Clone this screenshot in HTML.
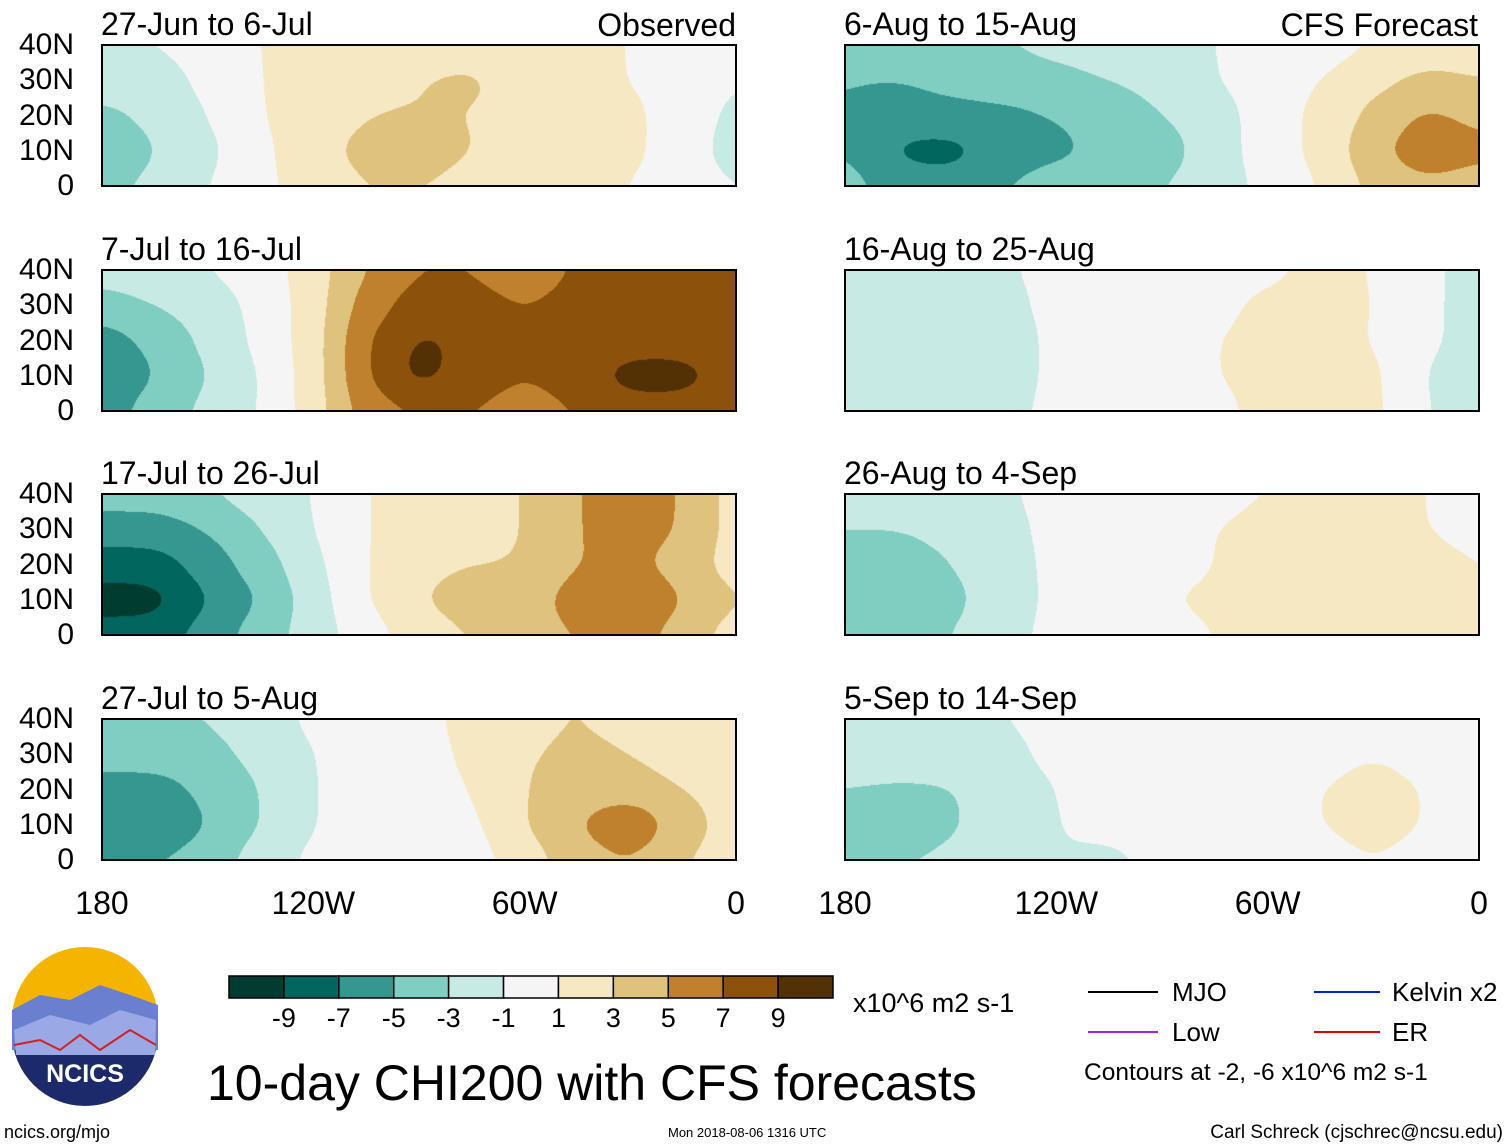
<!DOCTYPE html>
<html><head><meta charset="utf-8">
<style>
body{margin:0;background:#fff;width:1510px;height:1147px;position:relative;overflow:hidden;font-family:"Liberation Sans",sans-serif;}
.abs{position:absolute;}
canvas{position:absolute;}
.frame{position:absolute;border:2px solid #000;box-sizing:border-box;}
.ttl{position:absolute;font-size:32px;line-height:1;}
.yl{position:absolute;font-size:30px;width:74px;text-align:right;line-height:1;}
.xl{position:absolute;font-size:32px;line-height:1;transform:translateX(-50%);}
</style></head>
<body>
<div id="root"></div>
<svg class="abs" style="left:0;top:0" width="1510" height="1147">
  <g>
    <circle cx="85" cy="1033" r="73" fill="#1c2a6b"/>
    <path d="M12,1020 A73,73 0 0 1 158,1020 Z" fill="#f5b400"/>
    <path d="M12,1010 L40,995 L70,1000 L100,985 L130,995 L158,1005 L158,1050 L12,1050 Z" fill="#6a7fd0"/>
    <path d="M14,1030 L50,1015 L90,1025 L120,1010 L156,1020 L155,1055 L16,1055 Z" fill="#9aa8e6"/>
    <path d="M14,1045 L40,1040 L60,1050 L80,1035 L100,1050 L130,1030 L156,1045" stroke="#d02020" stroke-width="2" fill="none"/>
    <text x="85" y="1082" font-size="25" font-weight="bold" fill="#fff" text-anchor="middle" font-family="Liberation Sans, sans-serif">NCICS</text>
  </g>
  <g font-family="Liberation Sans, sans-serif" font-size="26">
    <line x1="1088" y1="992" x2="1158" y2="992" stroke="#000" stroke-width="2"/><text x="1172" y="1001">MJO</text>
    <line x1="1314" y1="992" x2="1380" y2="992" stroke="#0020e0" stroke-width="2"/><text x="1392" y="1001">Kelvin x2</text>
    <line x1="1088" y1="1032" x2="1158" y2="1032" stroke="#a020f0" stroke-width="2"/><text x="1172" y="1041">Low</text>
    <line x1="1314" y1="1032" x2="1380" y2="1032" stroke="#e00000" stroke-width="2"/><text x="1392" y="1041">ER</text>
    <text x="1084" y="1080" font-size="24.5">Contours at -2, -6 x10^6 m2 s-1</text>
  </g>
  <text x="207" y="1100" font-size="50" font-family="Liberation Sans, sans-serif">10-day CHI200 with CFS forecasts</text>
  <text x="853" y="1012" font-size="27" font-family="Liberation Sans, sans-serif">x10^6 m2 s-1</text>
  <text x="4" y="1138" font-size="18" font-family="Liberation Sans, sans-serif">ncics.org/mjo</text>
  <text x="668" y="1137" font-size="13" font-family="Liberation Sans, sans-serif">Mon 2018-08-06 1316 UTC</text>
  <text x="1503" y="1138" font-size="19" text-anchor="end" font-family="Liberation Sans, sans-serif">Carl Schreck (cjschrec@ncsu.edu)</text>
  <g id="cbar"></g>
</svg>
<script>
const levels=[-9,-7,-5,-3,-1,1,3,5,7,9];
const colors=["#003c30","#01665e","#35978f","#80cdc1","#c7eae5","#f5f5f5","#f6e8c3","#dfc27d","#bf812d","#8c510a","#543005"];
const lons=[180,165,150,135,120,105,90,75,60,45,30,15,0];
const lats=[40,30,20,10,0];
const titles=["27-Jun to 6-Jul","7-Jul to 16-Jul","17-Jul to 26-Jul","27-Jul to 5-Aug","6-Aug to 15-Aug","16-Aug to 25-Aug","26-Aug to 4-Sep","5-Sep to 14-Sep"];
const p1=[[-1,-1,0,1,2,2,2,2,1.5,1.5,1,0,0],[-2,-2,-0.5,1,2,2.5,3,3.5,2,1.5,1,0,-1],[-3.5,-2.5,-1,1,2,3,3,3,2,2,1.5,0,-1.5],[-5,-3,-1.5,0.5,2.5,3.5,4.5,3,2,1.5,1.5,0,-2],[-3.5,-2.5,-1,0.5,2,3,3,2,1.5,1.5,1,0,-1]];
const p2=[[-2,-1.5,-1,0,2,5,7,7,5,7.5,7.5,7,7],[-4,-3,-2,-0.5,2,6,8,8,7,8,8,7.5,7],[-6,-4.5,-2.5,-0.5,2,7,9.5,8.5,7,7.5,8,8,7],[-7,-5,-3,-1,2,7,10,8,7,8,10,10,8],[-6,-4,-2.5,-1,2,6,7,7,6,7,8,8,7]];
const p3=[[-4,-4,-3,-2,-1,1,2,2,3,5,6,5,2],[-6,-6,-5,-3,-1,1,2,2,3,5,6,5,2],[-8,-8,-6,-4,-1.5,1,2.5,3,3,5,5.5,4,2],[-10,-10,-7,-5,-2,1,3,4,4,6,7.5,5,3],[-8,-8,-6,-4,-2,0,2,3,4,5,6,4,2]];
const p4=[[-3,-3,-3,-2,-0.5,0,0,2,3,3,3,1,1],[-4,-4,-3.5,-2.5,-1,0,0,1.5,3,3,3,2,1],[-6,-6,-4.5,-3,-1,0,0,1,3,4,4,3,2],[-7,-7,-5,-3,-1,0,0,0.5,3,5,7,4,2],[-5,-5,-4,-2,-0.5,0,0,0,2,4,5,3,2]];
const p5=[[-4,-4,-3.5,-3,-2.5,-2,-1.5,-1,-0.5,0,1,2,2],[-5,-5,-4.5,-4,-3.5,-3,-2.5,-1,0,1,2.5,3.5,3],[-5,-6,-5.5,-5.5,-5,-4,-3,-2,0,1.5,3.5,5.5,4.5],[-5,-7.5,-8,-6,-5.5,-4.5,-4,-2,0,1.5,4.5,6.5,5.5],[-4,-6,-6,-5,-4,-4,-3,-2,-0.5,1,3.5,4.5,4]];
const p6=[[-1,-1.5,-1.5,-1.2,-0.5,0,0,0,0.5,1.5,1,-0.5,-2],[-1.5,-2,-2,-1.5,-0.5,0,0,0.5,1.5,2,1,-0.5,-2],[-2,-2.5,-2.5,-2,-0.5,0,0,1,1.5,1.5,1,-0.5,-2],[-2,-2.5,-2.5,-2,-0.5,0,0,1,1.5,2,1.5,-1,-3],[-2,-2.5,-2.5,-1.5,-0.5,0,0,0.5,1.5,3,1.5,-1,-2]];
const p7=[[-2,-2,-1.5,-1.2,-0.5,0,0,0.5,1,1.5,1.5,1,0.5],[-3,-3,-2.5,-1.5,-0.5,0,0.5,1,1.5,1.5,1.5,1,0.5],[-4,-4,-3,-1.8,-0.5,0,0.5,1,1.5,2,2,1.5,1],[-5,-5.5,-3.5,-2,-0.5,0.5,1,1.2,1.5,2.5,3.5,1.5,1],[-4,-4,-3,-1.5,-0.5,0,0.5,1,1.5,2,2.5,1.5,1]];
const p8=[[-1.5,-1.5,-1.5,-1,-0.5,0,0,0,0,0.5,0.5,0,0],[-2,-2,-2,-1.5,-0.5,0,0,0,0,0.5,1,0.5,0],[-3,-3.2,-3.2,-2,-1,0,0,0,0.5,1,1.5,1,0],[-4,-5,-3.2,-2,-1,-0.5,0,0,0.5,1,1.5,1,0],[-3,-3,-2.5,-2,-1,-1.5,-0.5,0,0,0.5,1,0.5,0]];
const fields=[p1,p2,p3,p4,p5,p6,p7,p8];

const root=document.getElementById('root');
const W=634,H=141;
const colX=[102,845],rowY=[45,270,494,719];
function rgb(h){return [parseInt(h.substr(1,2),16),parseInt(h.substr(3,2),16),parseInt(h.substr(5,2),16)];}
const crgb=colors.map(rgb);
function lvl(v){v+=0.0013;let i=0;while(i<levels.length&&v>levels[i])i++;return i;}
function val(f,lon,lat){
  const cx=(180-lon)/15, cy=(40-lat)/10;
  let s=0,w=0;
  for(let j=0;j<lats.length;j++)for(let i=0;i<lons.length;i++){
    const dx=cx-i,dy=cy-j;const wt=Math.exp(-(dx*dx+dy*dy)/0.55);
    s+=wt*f[j][i];w+=wt;
  }
  return s/w;
}
fields.forEach((f,k)=>{
  const c=k<4?0:1,r=k%4;
  const x0=colX[c],y0=rowY[r];
  const cv=document.createElement('canvas');
  cv.width=W;cv.height=H;cv.style.left=x0+'px';cv.style.top=y0+'px';
  
  
  const ctx=cv.getContext('2d');const im=ctx.createImageData(W,H);
  for(let y=0;y<H;y++)for(let x=0;x<W;x++){
    const lon=180-x/(W-1)*180, lat=40-y/(H-1)*40;
    const col=crgb[lvl(val(f,lon,lat))];
    const p=(y*W+x)*4;im.data[p]=col[0];im.data[p+1]=col[1];im.data[p+2]=col[2];im.data[p+3]=255;
  }
  ctx.putImageData(im,0,0);
  root.appendChild(cv);
  const fr=document.createElement('div');fr.className='frame';
  fr.style.left=(x0-1)+'px';fr.style.top=(y0-1)+'px';fr.style.width=(W+2)+'px';fr.style.height=(H+2)+'px';
  
  
  root.appendChild(fr);
  const t=document.createElement('div');t.className='ttl';t.textContent=titles[k];
  t.style.left=(x0-1)+'px';t.style.top=(y0-37)+'px';
  
  
  root.appendChild(t);
  if(c===0){
    lats.forEach(la=>{const d=document.createElement('div');d.className='yl';
      d.textContent=la===0?'0':la+'N';d.style.left='0px';d.style.top=(y0+(40-la)/40*H-15)+'px';
      
      
      root.appendChild(d);});
  }
});
[['Observed',736],['CFS Forecast',1478]].forEach(([s,x])=>{const d=document.createElement('div');d.className='ttl';d.textContent=s;
  d.style.left=(x-300)+'px';d.style.width='300px';d.style.textAlign='right';d.style.top='9px';
  
  
  root.appendChild(d);});
const xt=["180","120W","60W","0"],xv=[180,120,60,0];
colX.forEach(x0=>xv.forEach((v,i)=>{const d=document.createElement('div');d.className='xl';d.textContent=xt[i];
  d.style.left=(x0+(180-v)/180*W)+'px';d.style.top='887px';
  
  
  root.appendChild(d);}));
const ns="http://www.w3.org/2000/svg",cb=document.getElementById('cbar');
const cbx=229,cbw=604/11;
colors.forEach((c,i)=>{const r=document.createElementNS(ns,'rect');
  r.setAttribute('x',cbx+i*cbw);r.setAttribute('y',976);r.setAttribute('width',cbw);r.setAttribute('height',22);
  r.setAttribute('fill',c);r.setAttribute('stroke','#000');r.setAttribute('stroke-width','1.5');
  
  
  cb.appendChild(r);});
levels.forEach((l,i)=>{const t=document.createElementNS(ns,'text');
  t.setAttribute('x',cbx+(i+1)*cbw);t.setAttribute('y',1027);t.setAttribute('text-anchor','middle');
  t.setAttribute('font-size','27');t.setAttribute('font-family','Liberation Sans, sans-serif');
  t.textContent=l;
  
  
  cb.appendChild(t);});
</script>
</body></html>
